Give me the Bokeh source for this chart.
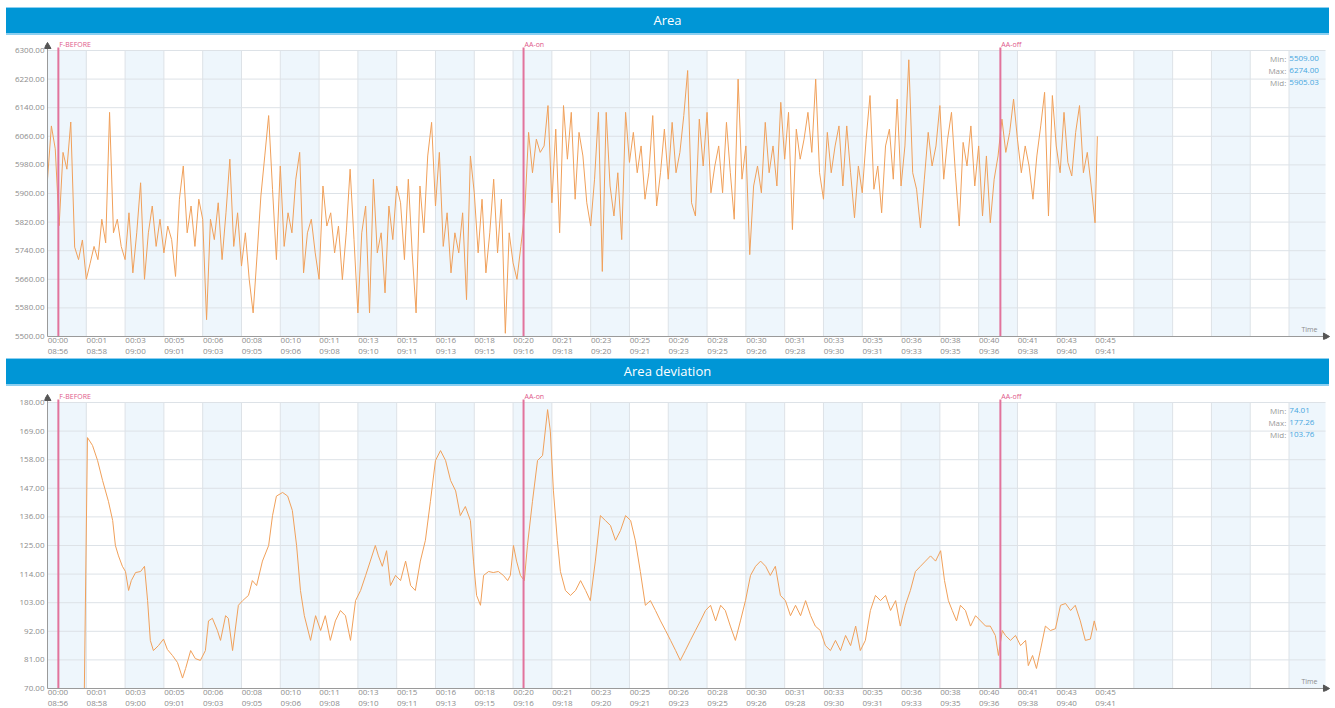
import math
from bokeh.plotting import figure
from bokeh.models import (FixedTicker, PrintfTickFormatter, Label, Div, Range1d)
from bokeh.layouts import column
from bokeh.embed import file_html
from bokeh.resources import INLINE

# ---------------- DATA ----------------
# elapsed seconds of x ticks (every 100 s) and their two-line labels
tick_secs = list(range(0, 2701, 100))
elapsed_labels = ["00:00", "00:01", "00:03", "00:05", "00:06", "00:08", "00:10", "00:11",
                  "00:13", "00:15", "00:16", "00:18", "00:20", "00:21", "00:23", "00:25",
                  "00:26", "00:28", "00:30", "00:31", "00:33", "00:35", "00:36", "00:38",
                  "00:40", "00:41", "00:43", "00:45"]
clock_labels = ["08:56", "08:58", "09:00", "09:01", "09:03", "09:05", "09:06", "09:08",
                "09:10", "09:11", "09:13", "09:15", "09:16", "09:18", "09:20", "09:21",
                "09:23", "09:25", "09:26", "09:28", "09:30", "09:31", "09:33", "09:35",
                "09:36", "09:38", "09:40", "09:41"]
grid_secs = list(range(0, 3201, 100))

# event markers (seconds)
event_names = ["F-BEFORE", "AA-on", "AA-off"]
event_secs = [28, 1227, 2456]

# Area series: sampled every 10 s
area_t = list(range(0, 2701, 10)) + [2706]
area_v = [
    5940, 6089, 6025, 5810, 6015, 5968, 6100, 5750, 5715, 5770, 5660,
    5705, 5752, 5715, 5828, 5762, 6127, 5790, 5828, 5752, 5715,
    5846, 5678, 5790, 5930, 5660, 5790, 5865, 5752, 5828, 5734,
    5809, 5771, 5668, 5884, 5977, 5790, 5865, 5752, 5884, 5828,
    5547, 5828, 5771, 5874, 5715, 5846, 5996, 5752, 5846, 5697,
    5790, 5659, 5566, 5725, 5893, 6005, 6118, 5912, 5715, 5977,
    5752, 5846, 5790, 5940, 6015, 5678, 5790, 5828, 5734, 5660,
    5921, 5809, 5846, 5734, 5809, 5659, 5790, 5968, 5771, 5566,
    5790, 5865, 5566, 5940, 5734, 5790, 5622, 5865, 5771, 5921,
    5874, 5715, 5940, 5734, 5566, 5921, 5790, 6005, 6099, 5865,
    6015, 5752, 5846, 5678, 5790, 5734, 5846, 5603, 6005, 5902,
    5734, 5884, 5678, 5790, 5940, 5734, 5884, 5509, 5790, 5706,
    5660, 5752, 5846, 6071, 5958, 6052, 6015, 6033, 6146, 5874,
    6080, 5790, 6146, 5996, 6127, 5884, 6071, 6005, 5874, 5809,
    5940, 6127, 5682, 6127, 5921, 5837, 5958, 5771, 6127, 5987,
    6071, 5958, 6033, 5884, 5958, 6118, 5865, 5958, 6080, 5940,
    6099, 5958, 6015, 6118, 6244, 5874, 5837, 6108, 5977, 6127,
    5902, 5977, 6033, 5902, 6099, 5958, 5828, 6220, 5940, 6033,
    5729, 5921, 5977, 5902, 6099, 5958, 6033, 5921, 6155, 5996,
    6127, 5799, 6080, 5996, 6052, 6127, 6015, 6220, 5958, 5884,
    6071, 5958, 6033, 6089, 5921, 6089, 5958, 5832, 5977, 5902,
    6052, 6174, 5912, 5977, 5846, 6033, 6080, 5940, 6164, 5921,
    6033, 6274, 5958, 5912, 5804, 5940, 6071, 5977, 6033, 6146,
    5940, 6052, 6127, 5958, 5809, 6043, 5977, 6089, 5921, 6033,
    5837, 6005, 5818, 5940, 6005, 6108, 6015, 6071, 6164, 6052,
    5958, 6033, 5977, 5884, 6005, 6089, 6183, 5837, 6174, 6033,
    5958, 6127, 5987, 5949, 6071, 6146, 5958, 6015, 5921, 5818,
    6060,
]
area_yticks = [5500, 5580, 5660, 5740, 5820, 5900, 5980, 6060, 6140, 6220, 6300]
area_stats = ["5509.00", "6274.00", "5905.03"]

# Area deviation series
dev_t = [95, 103, 116, 129, 142, 157, 168, 175, 183, 193, 201, 209, 216, 227, 240, 250,
         258, 265, 273, 286, 299, 309, 322, 335, 348, 356, 369, 381, 394, 407, 415, 425,
         438, 446, 459, 466, 477, 492, 503, 518, 528, 539, 554, 570, 580, 590, 606, 619,
         631, 642, 652, 662, 678, 691, 704, 716, 729, 742, 755, 768, 781, 794, 807, 820,
         832, 845, 853, 863, 874, 884, 897, 910, 923, 936, 948, 961, 974, 987, 1000, 1013,
         1026, 1039, 1052, 1064, 1077, 1090, 1098, 1106, 1116, 1124, 1137, 1149, 1162, 1175, 1186, 1193,
         1201, 1209, 1219, 1229, 1237, 1250, 1263, 1276, 1289, 1296, 1304, 1314, 1322, 1335, 1348, 1361,
         1374, 1387, 1399, 1412, 1425, 1438, 1451, 1464, 1477, 1490, 1503, 1515, 1528, 1541, 1554, 1567,
         1580, 1593, 1606, 1619, 1631, 1644, 1657, 1670, 1683, 1696, 1709, 1722, 1735, 1747, 1760, 1773,
         1786, 1799, 1812, 1825, 1838, 1851, 1863, 1876, 1889, 1902, 1915, 1928, 1941, 1954, 1967, 1979,
         1992, 2005, 2018, 2031, 2044, 2057, 2070, 2083, 2095, 2108, 2121, 2134, 2147, 2160, 2173, 2186,
         2198, 2211, 2224, 2237, 2250, 2263, 2276, 2289, 2302, 2312, 2322, 2332, 2343, 2353, 2366, 2379,
         2392, 2405, 2418, 2430, 2443, 2451, 2461, 2469, 2482, 2495, 2508, 2521, 2528, 2539, 2549, 2559,
         2572, 2585, 2598, 2611, 2624, 2637, 2649, 2662, 2675, 2688, 2698, 2704]
dev_v = [70.0, 166.5, 163.5, 157.7, 150.0, 142.0, 134.6, 125.0, 121.0, 117.0, 115.0, 107.7, 111.5, 114.6, 115.0, 117.0,
         103.8, 88.5, 84.6, 86.5, 89.0, 85.0, 82.7, 80.0, 74.01, 77.7, 84.6, 81.5, 80.8, 84.6, 96.0, 97.0,
         92.3, 88.5, 98.0, 97.0, 84.6, 102.0, 103.8, 105.8, 111.5, 109.6, 119.0, 125.0, 136.5, 144.0, 145.4, 144.0,
         138.5, 125.0, 107.7, 98.0, 88.5, 98.0, 92.3, 98.0, 88.5, 96.0, 100.0, 98.0, 88.5, 103.8, 107.7, 113.5,
         119.0, 125.0, 121.0, 117.0, 123.0, 109.6, 113.5, 111.5, 119.0, 109.6, 107.7, 119.0, 127.0, 142.0, 157.7, 161.5,
         157.7, 150.0, 146.0, 136.5, 140.0, 134.6, 119.0, 105.8, 102.0, 113.5, 115.0, 114.6, 115.0, 113.5, 111.5, 113.5,
         125.0, 119.0, 113.5, 111.5, 125.0, 142.0, 157.7, 159.6, 177.26, 169.0, 146.0, 127.0, 115.0, 107.7, 105.8, 107.7,
         111.5, 107.7, 103.8, 119.0, 136.5, 134.6, 132.7, 127.0, 130.8, 136.5, 134.6, 127.0, 115.0, 102.0, 103.8, 100.0,
         96.0, 92.3, 88.5, 84.6, 80.8, 84.6, 88.5, 92.3, 96.0, 100.0, 102.0, 96.0, 102.0, 100.0, 94.0, 88.5,
         96.0, 103.8, 113.5, 117.0, 119.0, 117.0, 113.5, 117.0, 105.8, 103.8, 98.0, 102.0, 98.0, 103.8, 98.0, 94.0,
         92.3, 86.5, 84.6, 88.5, 84.6, 90.4, 86.5, 94.0, 84.6, 88.5, 100.0, 105.8, 103.8, 105.8, 100.0, 103.8,
         94.0, 102.0, 107.7, 115.0, 117.0, 119.0, 121.0, 119.0, 123.0, 111.5, 103.8, 100.0, 96.0, 102.0, 100.0, 94.0,
         98.0, 96.0, 94.0, 94.0, 90.4, 82.7, 92.3, 90.4, 88.5, 90.4, 86.5, 88.5, 78.8, 82.7, 77.7, 84.6,
         94.0, 92.3, 93.0, 102.0, 102.7, 100.0, 102.0, 96.0, 88.5, 89.0, 96.0, 92.3]
dev_yticks = [70, 81, 92, 103, 114, 125, 136, 147, 158, 169, 180]
dev_stats = ["74.01", "177.26", "103.76"]
stat_names = ["Min:", "Max:", "Mid:"]

# ---------------- STYLE ----------------
FONT = "Open Sans"
X_END = 3294
DATA_W = 1278
DATA_H = 286
PAD_L, PAD_R, PAD_T, PAD_B = 3, 5, 10, 3
LINE_COLOR = "#f0a05a"
EVENT_COLOR = "#e2739c"
GRID_COLOR = "#dde2e7"
BAND_COLOR = "#eef6fc"
AXIS_COLOR = "#9a9a9a"
LABEL_COLOR = "#8c8c8c"


def panel(times, values, yticks, stats, border_top, border_bottom):
    ymin, ymax = yticks[0], yticks[-1]
    upp = (ymax - ymin) / DATA_H      # data units per pixel (y)
    spp = X_END / DATA_W              # seconds per pixel (x)
    p = figure(frame_width=DATA_W + PAD_L + PAD_R, frame_height=DATA_H + PAD_T + PAD_B,
               output_backend="svg", toolbar_location=None,
               x_range=Range1d(-PAD_L * spp, X_END + PAD_R * spp),
               y_range=Range1d(ymin - PAD_B * upp, ymax + PAD_T * upp),
               min_border_left=44, min_border_right=3, min_border_top=border_top,
               min_border_bottom=border_bottom)
    p.outline_line_color = None
    p.xgrid.visible = False
    p.ygrid.visible = False
    # alternating shaded columns
    lefts = grid_secs[0::2]
    p.quad(left=lefts, right=[min(l + 100, X_END) for l in lefts], bottom=ymin, top=ymax,
           fill_color=BAND_COLOR, line_color=None, level="image")
    # grid lines
    p.segment(x0=grid_secs[1:], y0=ymin, x1=grid_secs[1:], y1=ymax, line_color=GRID_COLOR,
              line_width=1, level="underlay")
    p.segment(x0=0, y0=yticks[1:], x1=X_END, y1=yticks[1:], line_color=GRID_COLOR,
              line_width=1, level="underlay")
    # series
    p.line(times, values, line_color=LINE_COLOR, line_width=1)
    # events
    p.segment(x0=event_secs, y0=ymin, x1=event_secs, y1=ymax + 3 * upp,
              line_color=EVENT_COLOR, line_width=2)
    for name, s in zip(event_names, event_secs):
        p.add_layout(Label(x=s + 1 * spp, y=ymax + 2 * upp, text=name, text_font=FONT,
                           text_font_size="7px", text_color="#e0598a", text_baseline="bottom"))
    # axis lines with arrows
    p.segment(x0=0, y0=ymin, x1=X_END, y1=ymin, line_color=AXIS_COLOR, line_width=1)
    p.segment(x0=0, y0=ymin, x1=0, y1=ymax + 3 * upp, line_color=AXIS_COLOR, line_width=1)
    p.scatter(x=[X_END], y=[ymin], marker="triangle", size=7, angle=-math.pi / 2,
              fill_color="#555555", line_color="#555555")
    p.scatter(x=[0], y=[ymax + 4 * upp], marker="triangle", size=7,
              fill_color="#555555", line_color="#555555")
    p.add_layout(Label(x=X_END - 8 * spp, y=ymin + 3 * upp, text="Time", text_align="right",
                       text_baseline="bottom", text_font=FONT, text_font_size="7px",
                       text_color=LABEL_COLOR))

    # axes (labels only)
    p.xaxis.ticker = FixedTicker(ticks=[s + 27 for s in tick_secs])
    p.xaxis.major_label_overrides = {s + 27: f"{a}\n{b}" for s, a, b in
                                     zip(tick_secs, elapsed_labels, clock_labels)}
    p.yaxis.ticker = FixedTicker(ticks=yticks)
    p.yaxis.formatter = PrintfTickFormatter(format="%.2f")
    for ax in (p.xaxis, p.yaxis):
        ax.axis_line_color = None
        ax.major_tick_line_color = None
        ax.minor_tick_line_color = None
        ax.major_tick_out = 0
        ax.major_tick_in = 0
        ax.minor_tick_out = 0
        ax.minor_tick_in = 0
        ax.major_label_text_font = FONT
        ax.major_label_text_font_size = "8px"
        ax.major_label_text_color = LABEL_COLOR
        ax.major_label_standoff = 0
    p.xaxis.major_label_text_line_height = 1.0
    p.xaxis.major_label_standoff = -6

    # stats box
    for i, (nm, val) in enumerate(zip(stat_names, stats)):
        yy = ymax - (8 + 12 * i) * upp
        p.add_layout(Label(x=3193, y=yy, text=nm, text_align="right", text_baseline="middle",
                           text_font=FONT, text_font_size="8px", text_color="#999999"))
        p.add_layout(Label(x=3193 + 3 * spp, y=yy, text=val, text_align="left",
                           text_baseline="middle", text_font=FONT, text_font_size="8px",
                           text_color="#45a6e0"))
    return p


def bar(title, top):
    return Div(text=title, width=1323, height=28, margin=(top, 0, 0, 6),
               styles={"background-color": "#0096d6", "color": "#ffffff",
                       "font-family": "'Open Sans'", "font-size": "13px",
                       "text-align": "center", "line-height": "26px",
                       "box-shadow": "inset 0 -2px 0 #8ccff0, inset 0 1px 0 #8ccff0"})


p1 = panel(area_t, area_v, area_yticks, area_stats, 5, 19)
p2 = panel(dev_t, dev_v, dev_yticks, dev_stats, 6, 17)
layout = column(bar("Area", 7), p1, bar("Area deviation", 0), p2, spacing=0)

open("out.html", "w").write(file_html(layout, INLINE))
